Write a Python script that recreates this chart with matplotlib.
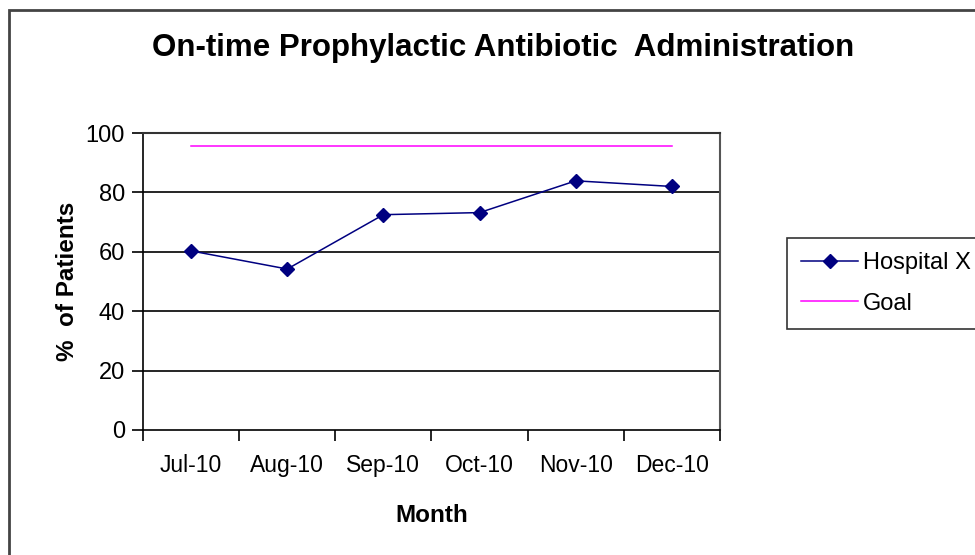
import matplotlib
matplotlib.use("Agg")
import matplotlib.pyplot as plt
from matplotlib.patches import Rectangle

plt.rcParams['font.family'] = ['Liberation Sans', 'DejaVu Sans']

# data
months = ['Jul-10', 'Aug-10', 'Sep-10', 'Oct-10', 'Nov-10', 'Dec-10']
hospital_x = [60.3, 54.2, 72.5, 73.2, 83.9, 82.0]
goal = [95.5, 95.5, 95.5, 95.5, 95.5, 95.5]
y_ticks = [0, 20, 40, 60, 80, 100]

fig = plt.figure(figsize=(9.75, 5.55), dpi=100)
ax = fig.add_axes([143 / 975, 1 - 430 / 555, (720 - 143) / 975, (430 - 133) / 555])

x = list(range(len(months)))
ax.plot(x, hospital_x, color='#000080', lw=1.1, marker='D', ms=7,
        label='Hospital X')
ax.plot(x, goal, color='#FF00FF', lw=1.1, label='Goal')

ax.set_xlim(-0.5, len(months) - 0.5)
ax.set_ylim(0, 100)
ax.set_yticks(y_ticks)
ax.set_yticklabels([str(v) for v in y_ticks], fontsize=17)
ax.set_xticks([i - 0.5 for i in range(len(months) + 1)])
ax.set_xticklabels([])
ax.set_xticks(x, minor=True)
ax.set_xticklabels(months, minor=True, fontsize=16.5)
ax.tick_params(axis='x', which='minor', length=0, pad=17)
ax.tick_params(axis='x', which='major', length=8, width=1.2, direction='out')
ax.tick_params(axis='y', length=8, width=1.2, direction='out', pad=5)

for v in y_ticks[1:-1]:
    ax.axhline(v, color='black', lw=1.2, zorder=0)

for side in ['left', 'bottom']:
    ax.spines[side].set_linewidth(1.2)
    ax.spines[side].set_color('black')
ax.spines['top'].set_color('#333333')
ax.spines['top'].set_linewidth(1.5)
ax.spines['right'].set_color('#555555')
ax.spines['right'].set_linewidth(1.5)

ax.set_xlabel('Month', fontsize=17.5, fontweight='bold', labelpad=20)
ax.set_ylabel('%  of Patients', fontsize=17.5, fontweight='bold', labelpad=5)

fig.text(503 / 975, 1 - 48 / 555, 'On-time Prophylactic Antibiotic  Administration',
         ha='center', va='center', fontsize=22.5, fontweight='bold')

leg = fig.legend(loc='upper left', bbox_to_anchor=(787 / 975, 1 - 238 / 555),
                 fontsize=17, frameon=True, fancybox=False, borderpad=0.6,
                 handlelength=2.4, handletextpad=0.2, labelspacing=0.78,
                 borderaxespad=0)
leg.get_frame().set_edgecolor('black')
leg.get_frame().set_linewidth(1.2)

# chart area border (cut off at right and bottom)
fig.patches.append(Rectangle((9 / 975, -0.2), 1.2, 1.2 - 10 / 555,
                             transform=fig.transFigure, fill=False,
                             edgecolor='#444444', lw=2))

fig.savefig('out.png', dpi=100)
